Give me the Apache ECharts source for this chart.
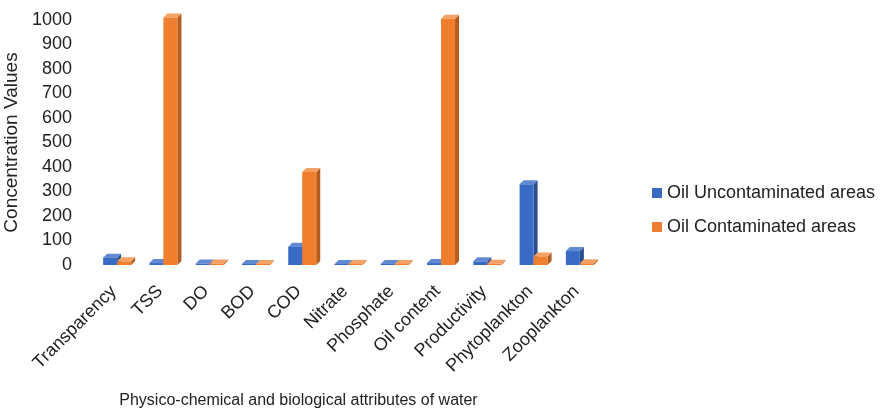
<!DOCTYPE html>
<html>
<head>
<meta charset="utf-8">
<script src="https://cdn.jsdelivr.net/npm/echarts@6/dist/echarts.min.js"></script>
<style>
  html, body { margin: 0; padding: 0; background: #fff; }
  #chart { width: 885px; height: 410px; }
</style>
</head>
<body>
<div id="chart"></div>
<script>
const categories = ['Transparency', 'TSS', 'DO', 'BOD', 'COD', 'Nitrate', 'Phosphate',
  'Oil content', 'Productivity', 'Phytoplankton', 'Zooplankton']
const uncontaminated = [30, 8, 6, 3, 75, 3, 2, 8, 15, 330, 57]
const contaminated = [15, 1010, 6, 3, 380, 3, 2, 1005, 5, 35, 7]
const seriesNames = ['Oil Uncontaminated areas', 'Oil Contaminated areas']

const FONT = 'Liberation Sans'
const BAR_W = 14
const DEPTH = 4

// fake 3d bar: front face, side face, top face
function bar3d(offset, front, side, top) {
  return function (params, api) {
    const base = api.coord([api.value(0), 0])
    const peak = api.coord([api.value(0), api.value(1)])
    const x0 = base[0] + offset
    const x1 = x0 + BAR_W
    const y0 = base[1]
    const y1 = Math.min(peak[1], y0 - 1)
    return {
      type: 'group',
      children: [
        {
          type: 'polygon',
          shape: { points: [[x1, y0], [x1 + DEPTH, y0 - DEPTH], [x1 + DEPTH, y1 - DEPTH], [x1, y1]] },
          style: { fill: side }
        },
        {
          type: 'polygon',
          shape: { points: [[x0, y1], [x1, y1], [x1 + DEPTH, y1 - DEPTH], [x0 + DEPTH, y1 - DEPTH]] },
          style: { fill: top }
        },
        {
          type: 'rect',
          shape: { x: x0, y: y1, width: BAR_W, height: y0 - y1 },
          style: { fill: front }
        }
      ]
    }
  }
}

const chart = echarts.init(document.getElementById('chart'))
chart.setOption({
  animation: false,
  textStyle: { fontFamily: FONT },
  grid: { left: 94, right: 282, top: 20, bottom: 145, outerBoundsMode: 'none', containLabel: false },
  legend: {
    orient: 'vertical',
    left: 647,
    top: 179,
    icon: 'rect',
    itemWidth: 10,
    itemHeight: 10,
    itemGap: 16,
    textStyle: { fontFamily: FONT, fontSize: 18, color: '#222' },
    data: seriesNames
  },
  xAxis: {
    type: 'category',
    data: categories,
    axisLine: { show: false },
    axisTick: { show: false },
    axisLabel: {
      interval: 0, rotate: 45, fontSize: 18, color: '#222', margin: 20,
      padding: [0, 5, 0, 0], fontFamily: FONT
    },
    name: 'Physico-chemical and biological attributes of water',
    nameLocation: 'middle',
    nameGap: 128,
    nameTextStyle: { fontSize: 16, color: '#222', fontFamily: FONT, padding: [0, 100, 0, 0] }
  },
  yAxis: {
    type: 'value',
    min: 0,
    max: 1000,
    interval: 100,
    axisLine: { show: false },
    axisTick: { show: false },
    splitLine: { show: false },
    axisLabel: { fontSize: 18, color: '#222', margin: 22, fontFamily: FONT, formatter: v => String(v) },
    name: 'Concentration Values',
    nameLocation: 'middle',
    nameGap: 67,
    nameTextStyle: { fontSize: 19, color: '#222', fontFamily: FONT }
  },
  series: [
    {
      name: seriesNames[0],
      type: 'custom',
      clip: false,
      itemStyle: { color: '#3a6bc4' },
      renderItem: bar3d(-BAR_W, '#3a6bc4', '#2a4d8f', '#6189d4'),
      encode: { x: 0, y: 1 },
      data: uncontaminated.map((v, i) => [i, v])
    },
    {
      name: seriesNames[1],
      type: 'custom',
      clip: false,
      itemStyle: { color: '#ed7d31' },
      renderItem: bar3d(0, '#ef7f2f', '#b35c1e', '#f5a064'),
      encode: { x: 0, y: 1 },
      data: contaminated.map((v, i) => [i, v])
    }
  ]
})
</script>
</body>
</html>
